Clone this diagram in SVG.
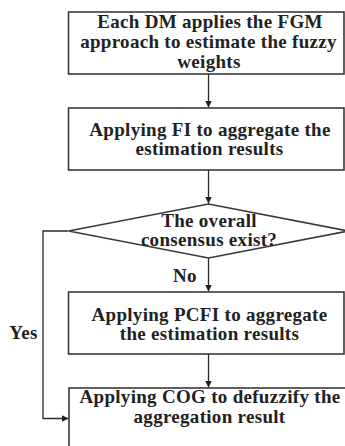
<svg xmlns="http://www.w3.org/2000/svg" width="345" height="446" viewBox="0 0 345 446">
  <defs>
    <marker id="arrow" viewBox="0 0 10 10" refX="10" refY="5" markerWidth="7" markerHeight="7" markerUnits="userSpaceOnUse" orient="auto">
      <path d="M0,0 L10,5 L0,10 Z" fill="#222"/>
    </marker>
    <style>
      .box { fill: #fff; stroke: #3a3a3a; stroke-width: 1.6; }
      .edge { fill: none; stroke: #2a2a2a; stroke-width: 1.3; marker-end: url(#arrow); }
      .label { font-family: "Liberation Serif", "Times New Roman", serif; font-weight: bold; font-size: 19px; letter-spacing: 0.3px; fill: #222; text-anchor: middle; }
    </style>
  </defs>
  <rect width="345" height="446" fill="#fff"/>

  <g id="connectors">
    <line class="edge" x1="208.5" y1="74" x2="208.5" y2="107.5"/>
    <line class="edge" x1="208.5" y1="170" x2="208.5" y2="203.5"/>
    <line class="edge" x1="208.5" y1="258" x2="208.5" y2="291.5"/>
    <line class="edge" x1="208.5" y1="354" x2="208.5" y2="387.5"/>
    <polyline class="edge" points="68,231 43,231 43,418.5 68.5,418.5"/>
    <text class="label" x="185" y="282">No</text>
    <text class="label" x="23.5" y="339">Yes</text>
  </g>

  <g id="fgm">
    <rect class="box" x="68.5" y="12" width="275.5" height="62"/>
    <text class="label" x="210" y="28">Each DM applies the FGM</text>
    <text class="label" x="208.5" y="48">approach to estimate the fuzzy</text>
    <text class="label" x="209" y="68">weights</text>
  </g>

  <g id="fi">
    <rect class="box" x="68.5" y="108" width="275.5" height="62"/>
    <text class="label" x="210" y="136">Applying FI to aggregate the</text>
    <text class="label" x="209.5" y="155">estimation results</text>
  </g>

  <g id="consensus">
    <polygon class="box" points="208.5,204 348.5,231 208.5,258 68.5,231"/>
    <text class="label" x="209" y="227">The overall</text>
    <text class="label" x="209" y="246">consensus exist?</text>
  </g>

  <g id="pcfi">
    <rect class="box" x="68.5" y="292" width="275.5" height="62"/>
    <text class="label" x="209.5" y="321">Applying PCFI to aggregate</text>
    <text class="label" x="209.5" y="340">the estimation results</text>
  </g>

  <g id="cog">
    <rect class="box" x="69" y="388" width="290" height="70"/>
    <text class="label" x="210" y="403">Applying COG to defuzzify the</text>
    <text class="label" x="209.5" y="423">aggregation result</text>
  </g>
</svg>
